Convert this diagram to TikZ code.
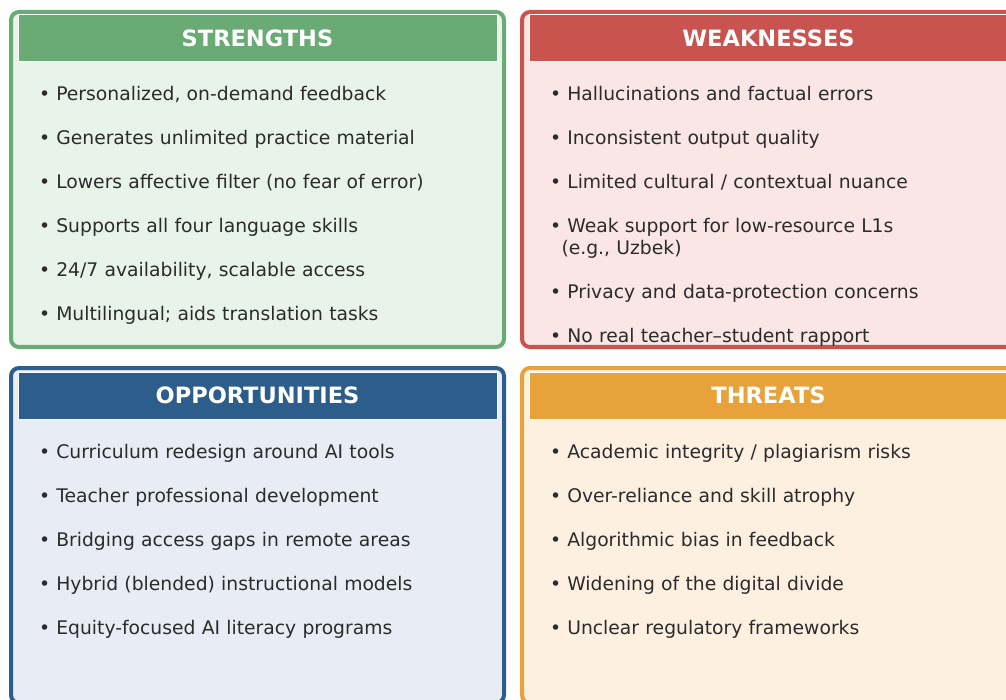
\documentclass[tikz,border=0pt]{standalone}
\usepackage{fontspec}
\setmainfont{DejaVu Sans}
\usetikzlibrary{positioning}

\definecolor{sgreen}{HTML}{6AAA74}
\definecolor{sgreenbg}{HTML}{E8F3EA}
\definecolor{wred}{HTML}{C9534F}
\definecolor{wredbg}{HTML}{FBE6E6}
\definecolor{oblue}{HTML}{2D5D8A}
\definecolor{obluebg}{HTML}{E8EDF5}
\definecolor{torange}{HTML}{E8A23A}
\definecolor{torangebg}{HTML}{FDF0E1}
\definecolor{itemtext}{HTML}{2B2B2B}

\tikzset{
  panel/.style={draw, line width=4pt, rounded corners=8pt, minimum width=493pt, minimum height=335pt, inner sep=0pt},
  head/.style={draw=white, line width=1pt, minimum width=479pt, minimum height=47pt, inner sep=0pt, text=white, font=\fontsize{22.5}{26}\selectfont\bfseries},
  item/.style={text width=440pt, align=left, inner sep=0pt, text height=14pt, text depth=5pt, text=itemtext, font=\fontsize{18.75}{22}\selectfont}
}

\begin{document}
\begin{tikzpicture}[x=1pt, y=1pt, node distance=44pt]
\useasboundingbox (0,0) rectangle (1006,-700);
\clip (0,0) rectangle (1006,-700);
% panels
\node (spanel)[panel, draw=sgreen, fill=sgreenbg] at (257.5,-179.5) {};
\node (wpanel)[panel, draw=wred, fill=wredbg] at (768.5,-179.5) {};
\node (opanel)[panel, draw=oblue, fill=obluebg] at (257.5,-535.5) {};
\node (tpanel)[panel, draw=torange, fill=torangebg] at (768.5,-535.5) {};
% headers
\node (shead)[head, fill=sgreen] at (257.5,-38.5) {STRENGTHS};
\node (whead)[head, fill=wred] at (768.5,-38.5) {WEAKNESSES};
\node (ohead)[head, fill=oblue] at (257.5,-395.5) {OPPORTUNITIES};
\node (thead)[head, fill=torange] at (768.5,-395.5) {THREATS};
% strengths
\node (s1)[item] at (259,-96.5) {• Personalized, on-demand feedback};
\node (s2)[item] [below of = s1] {• Generates unlimited practice material};
\node (s3)[item] [below of = s2] {• Lowers affective filter (no fear of error)};
\node (s4)[item] [below of = s3] {• Supports all four language skills};
\node (s5)[item] [below of = s4] {• 24/7 availability, scalable access};
\node (s6)[item] [below of = s5] {• Multilingual; aids translation tasks};
% weaknesses
\node (w1)[item] at (770,-96.5) {• Hallucinations and factual errors};
\node (w2)[item] [below of = w1] {• Inconsistent output quality};
\node (w3)[item] [below of = w2] {• Limited cultural / contextual nuance};
\node (w4)[item] [below of = w3] {• Weak support for low-resource L1s};
\node (w4b)[item] [node distance=22pt, below of = w4] {\hspace*{11.5pt}(e.g., Uzbek)};
\node (w5)[item] [below of = w4b] {• Privacy and data-protection concerns};
\node (w6)[item] [below of = w5] {• No real teacher–student rapport};
% opportunities
\node (o1)[item] at (259,-453.5) {• Curriculum redesign around AI tools};
\node (o2)[item] [below of = o1] {• Teacher professional development};
\node (o3)[item] [below of = o2] {• Bridging access gaps in remote areas};
\node (o4)[item] [below of = o3] {• Hybrid (blended) instructional models};
\node (o5)[item] [below of = o4] {• Equity-focused AI literacy programs};
% threats
\node (t1)[item] at (770,-453.5) {• Academic integrity / plagiarism risks};
\node (t2)[item] [below of = t1] {• Over-reliance and skill atrophy};
\node (t3)[item] [below of = t2] {• Algorithmic bias in feedback};
\node (t4)[item] [below of = t3] {• Widening of the digital divide};
\node (t5)[item] [below of = t4] {• Unclear regulatory frameworks};
\end{tikzpicture}
\end{document}
